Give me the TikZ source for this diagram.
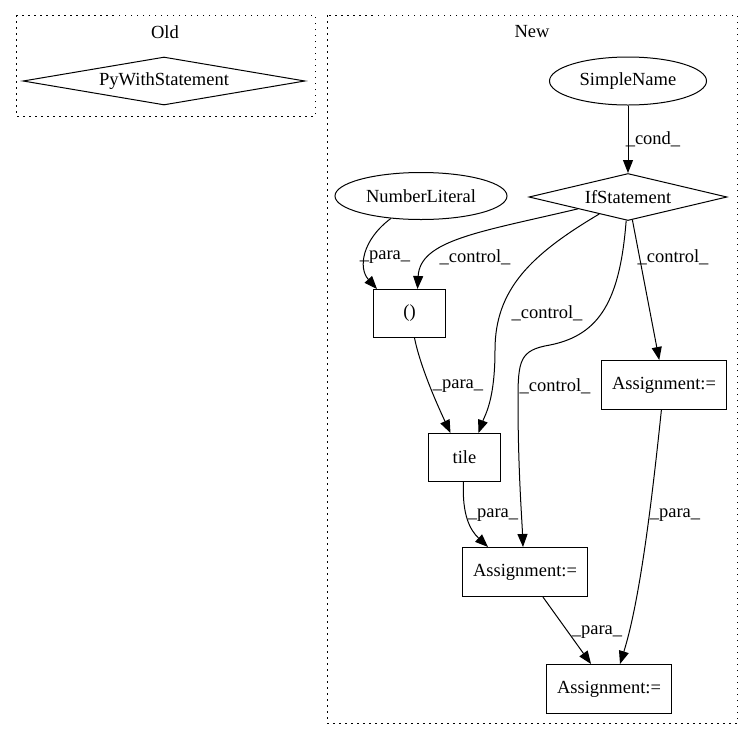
\documentclass[tikz,border=0pt]{standalone}
\usepackage{fontspec}
\setmainfont{Liberation Serif}
\usetikzlibrary{shapes.geometric,arrows.meta}
\begin{document}
\begin{tikzpicture}[x=1pt,y=-1pt,
  every node/.style={font=\fontsize{18.5}{21}\selectfont, inner sep=0pt},
  cluster/.style={draw, line width=1pt, dash pattern=on 1.5pt off 4.5pt},
  boxn/.style={draw, line width=1pt, rectangle, minimum width=72pt, minimum height=48pt},
  wbox/.style={draw, line width=1pt, rectangle, minimum width=125pt, minimum height=49pt},
  ell/.style={draw, line width=1pt, ellipse},
  dia/.style={draw, line width=1pt, diamond},
  edge/.style={line width=1pt, -{Triangle[length=13pt,width=10pt]}},
  lbl/.style={fill=none}
]
\useasboundingbox (0,0) rectangle (753,740);
% clusters
\draw[cluster] (16,15) rectangle (315,116);
\draw[cluster] (327,15) rectangle (737,723);
\node (oldt) at (165,32) {Old};
\node (newt) at (532,32) {New};
% old
\node[dia, shape aspect=5.9, minimum width=282pt, minimum height=48pt] (pw) at (164,81) {PyWithStatement};
% new
\node[ell, minimum width=157pt, minimum height=48pt] (sn) at (628,81) {SimpleName};
\node[dia, shape aspect=4.2, minimum width=198pt, minimum height=47pt] (if) at (628,197) {IfStatement};
\node[ell, minimum width=172pt, minimum height=47pt] (nl) at (421,196) {NumberLiteral};
\node[boxn] (paren) at (409.5,313.5) {()};
\node[boxn] (tile) at (464.5,457.5) {tile};
\node[wbox] (ar) at (664,385) {Assignment:=};
\node[wbox] (mid) at (525,572) {Assignment:=};
\node[wbox] (bot) at (609,689) {Assignment:=};
% edges
\draw[edge] (sn) -- (if);
\node[lbl] (l1) at (653,139) {\_cond\_};
\draw[edge] (nl) .. controls (362,240) and (358,268) .. ([xshift=4pt]paren.north west);
\node[lbl] (l2) at (385,257) {\_para\_};
\draw[edge] (if) .. controls (480,232) and (420,240) .. ([xshift=8pt]paren.north);
\node[lbl] (l3) at (475,257) {\_control\_};
\draw[edge] (if) .. controls (530,255) and (495,290) .. (495,350) .. controls (495,400) and (485,415) .. ([xshift=14pt]tile.north);
\node[lbl] (l4) at (547,313) {\_control\_};
\draw[edge] (if) .. controls (620,300) and (600,335) .. (550,345) .. controls (520,350) and (518,360) .. (518,400) .. controls (518,470) and (522,520) .. ([xshift=-2pt]mid.north);
\node[lbl] (l5) at (555,386) {\_control\_};
\draw[edge] (if) -- (ar);
\node[lbl] (l6) at (673,257) {\_control\_};
\draw[edge] (paren) .. controls (420,365) and (435,400) .. ([xshift=-14pt]tile.north);
\node[lbl] (l7) at (458,386) {\_para\_};
\draw[edge] (tile) .. controls (462,515) and (470,530) .. ([xshift=-37pt]mid.north);
\node[lbl] (l8) at (493,515) {\_para\_};
\draw[edge] (ar) .. controls (652,500) and (640,600) .. ([xshift=11pt]bot.north);
\node[lbl] (l9) at (675,515) {\_para\_};
\draw[edge] (mid) -- (bot);
\node[lbl] (l10) at (597,632) {\_para\_};
\end{tikzpicture}
\end{document}
